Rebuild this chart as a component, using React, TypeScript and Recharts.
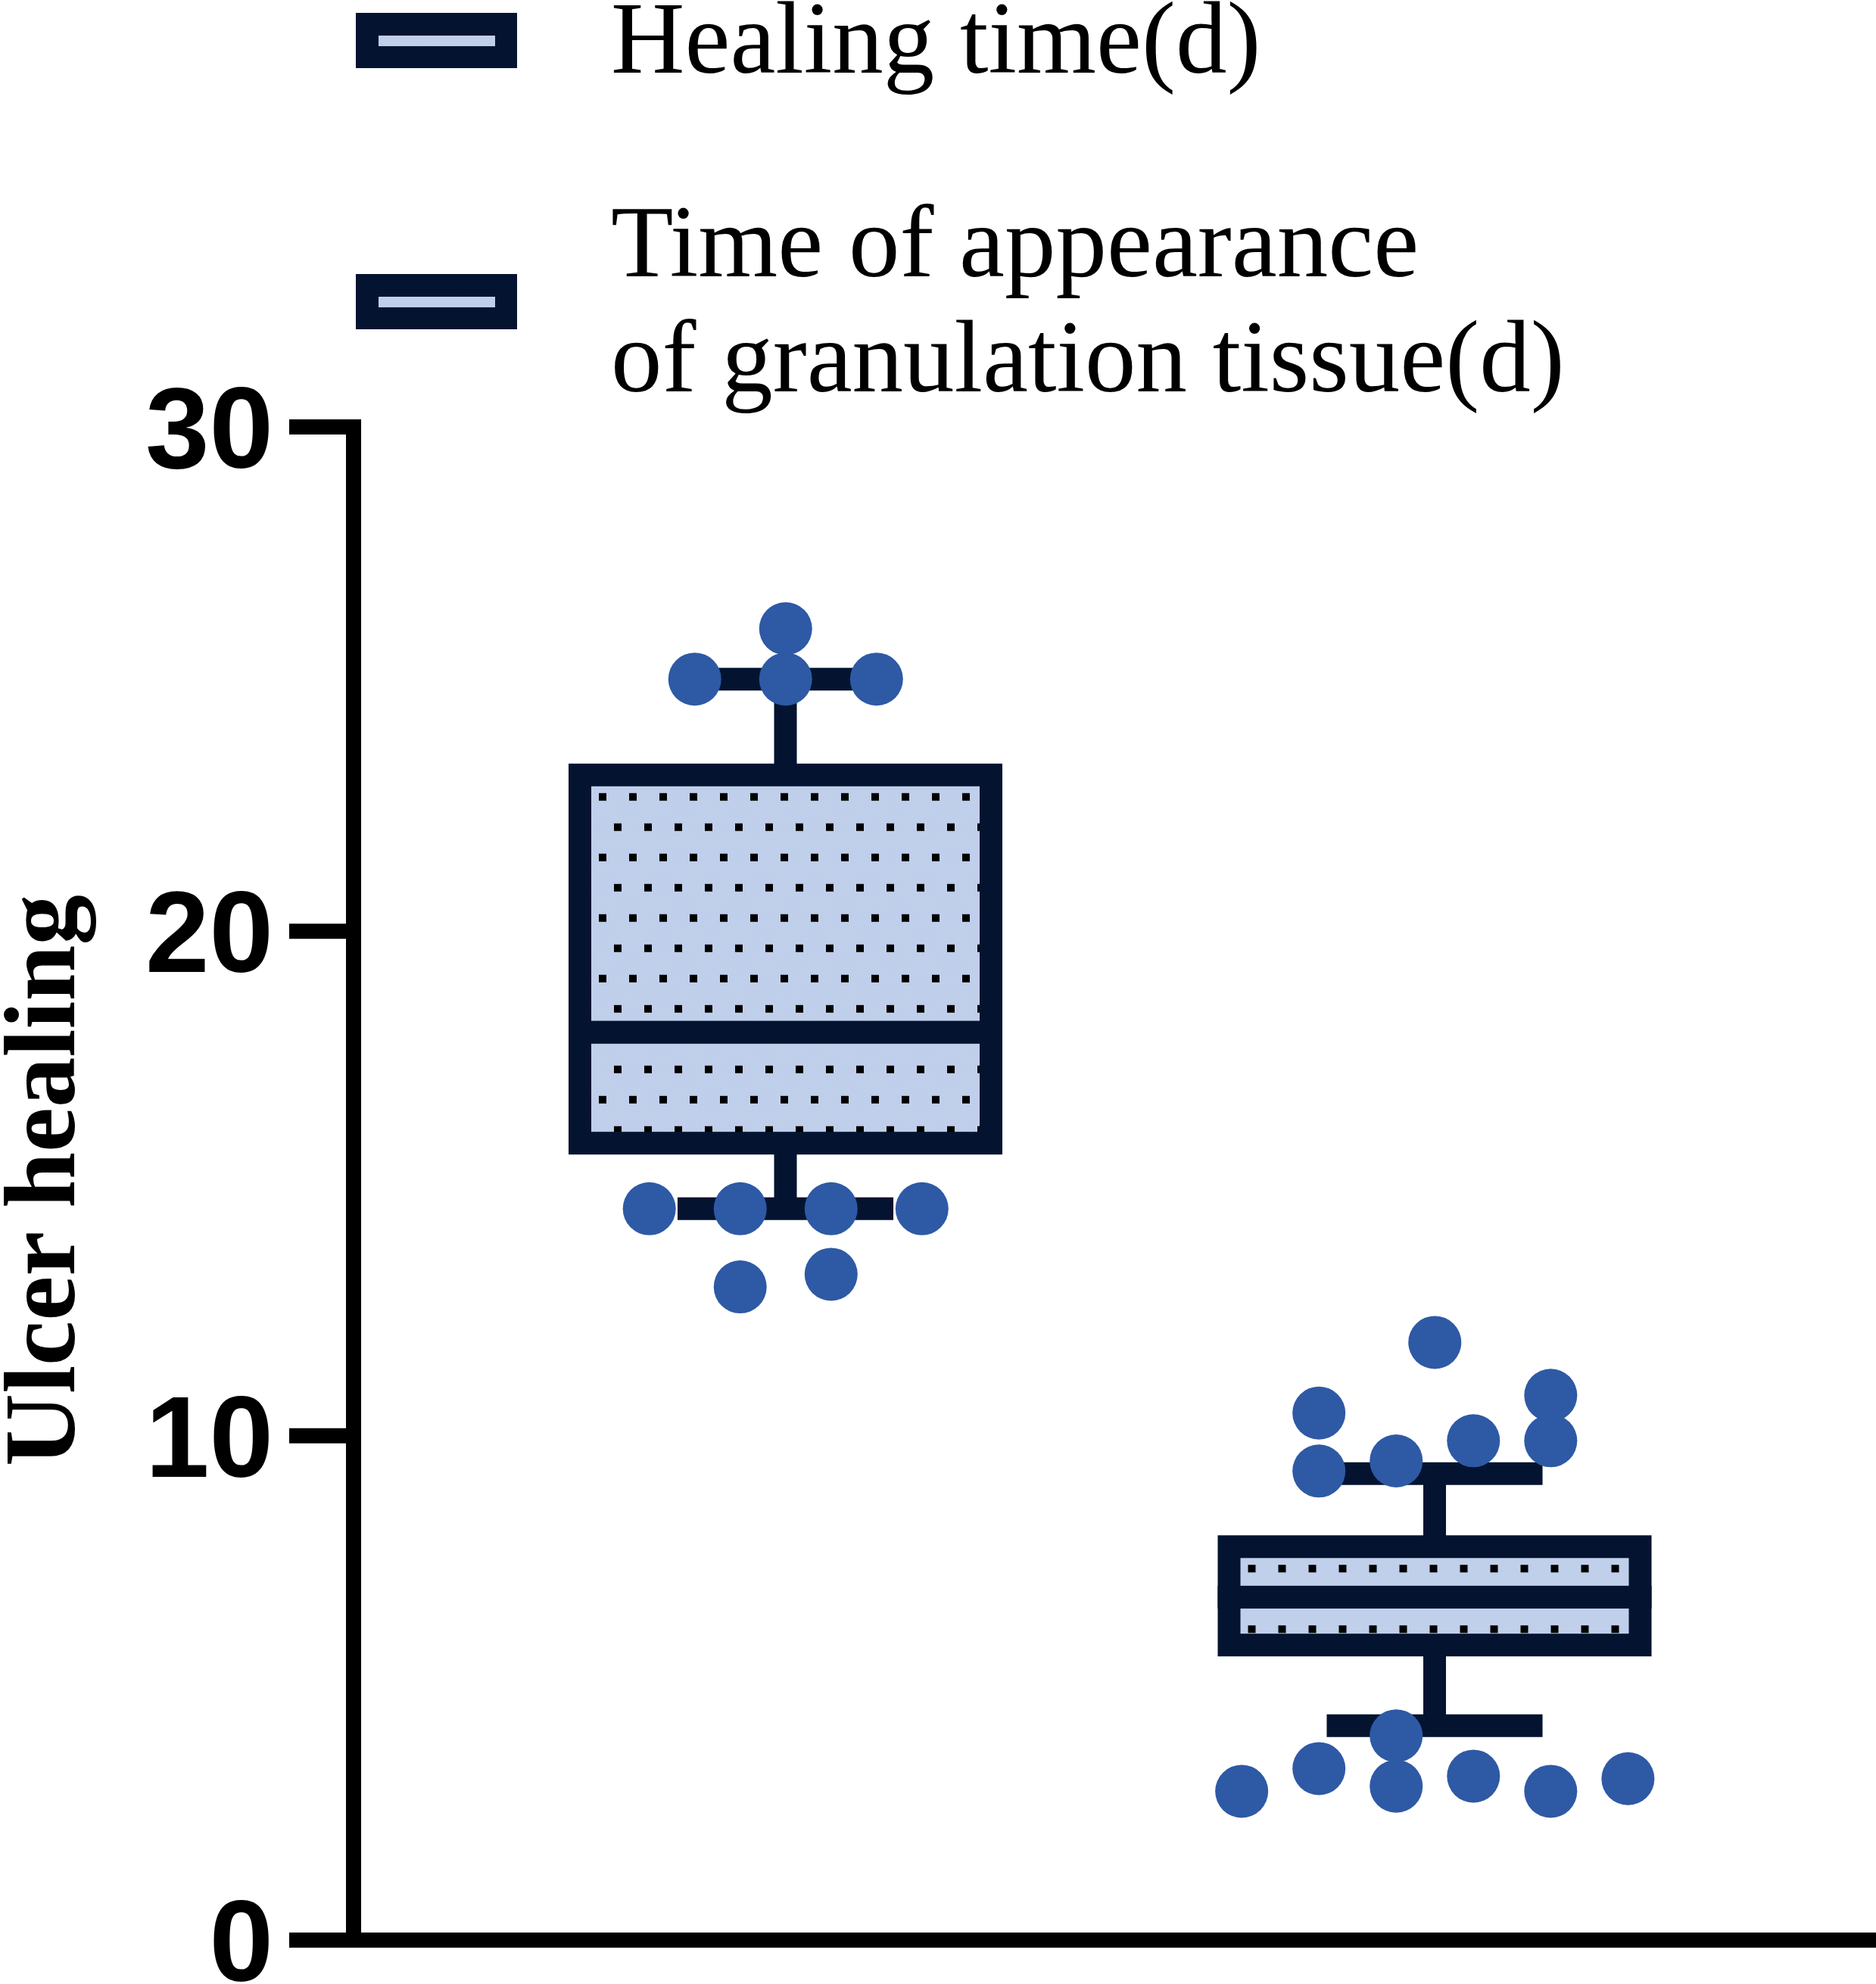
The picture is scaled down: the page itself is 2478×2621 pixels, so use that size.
import React from "react";
import {
  ComposedChart,
  Bar,
  Scatter,
  XAxis,
  YAxis,
  Legend,
} from "recharts";

// box summaries, one entry per group
const groups = ["Healing time(d)", "Time of appearance of granulation tissue(d)"];
const whiskerLow = [14.5, 4.25];
const q1 = [15.8, 5.85];
const median = [18.0, 6.8];
const q3 = [23.1, 7.8];
const whiskerHigh = [25.0, 9.25];

// individual observations + their jitter column
const healingTimes = [26, 25, 25, 25, 14.5, 14.5, 14.5, 14.5, 12.95, 13.2];
const healingSlots = [0, -2, 0, 2, -3, -1, 1, 3, -1, 1];
const granulationTimes = [11.85, 10.45, 10.8, 9.3, 9.5, 9.9, 9.9, 4.05, 3.4, 2.95, 3.05, 3.25, 2.95, 3.2];
const granulationSlots = [0, -3, 3, -3, -1, 1, 3, -1, -3, -5, -1, 1, 3, 5];

const yTicks = [0, 10, 20, 30];
const legendLines = [["Healing time(d)"], ["Time of appearance", "of granulation tissue(d)"]];

const NAVY = "#041430";
const DOT = "#2e59a5";
const STROKE = 30;
const jitterStep = [0.07, 0.0595];
const serif = "'Liberation Serif', 'Times New Roman', serif";

const boxRows = groups.map((name, i) => ({
  name,
  base: whiskerLow[i],
  wLow: q1[i] - whiskerLow[i],
  boxLow: median[i] - q1[i],
  boxHigh: q3[i] - median[i],
  wHigh: whiskerHigh[i] - q3[i],
}));

const toPoints = (values: number[], slots: number[], g: number) =>
  values.map((y, k) => ({ x: g + 0.5 + slots[k] * jitterStep[g], y }));

const points = [
  ...toPoints(healingTimes, healingSlots, 0),
  ...toPoints(granulationTimes, granulationSlots, 1),
];

const Empty = () => <g />;

const WhiskerLow = (p: any) => {
  const cx = p.x + p.width / 2;
  const half = (p.width * 0.525) / 2;
  const yb = p.y + p.height;
  return (
    <g>
      <line x1={cx} x2={cx} y1={p.y} y2={yb} stroke={NAVY} strokeWidth={STROKE} />
      <line x1={cx - half} x2={cx + half} y1={yb} y2={yb} stroke={NAVY} strokeWidth={STROKE} />
    </g>
  );
};

const WhiskerHigh = (p: any) => {
  const cx = p.x + p.width / 2;
  const half = (p.width * 0.525) / 2;
  return (
    <g>
      <line x1={cx} x2={cx} y1={p.y + p.height} y2={p.y} stroke={NAVY} strokeWidth={STROKE} />
      <line x1={cx - half} x2={cx + half} y1={p.y} y2={p.y} stroke={NAVY} strokeWidth={STROKE} />
    </g>
  );
};

const BoxLow = (p: any) => (
  <rect x={p.x} y={p.y} width={p.width} height={p.height} fill={`url(#dots-${p.index})`} stroke={NAVY} strokeWidth={STROKE} />
);

// upper half also defines the dotted fill, anchored at the inner top-left corner of the box
const BoxHigh = (p: any) => (
  <g>
    <defs>
      <pattern id={`chk-${p.index}`} width={2} height={2} patternUnits="userSpaceOnUse">
        <rect width={2} height={2} fill="#e8eef9" />
        <rect width={1} height={1} fill="#97afdb" />
        <rect x={1} y={1} width={1} height={1} fill="#97afdb" />
      </pattern>
      <pattern
        id={`dots-${p.index}`}
        x={p.x + STROKE / 2}
        y={p.y + STROKE / 2}
        width={40}
        height={80}
        patternUnits="userSpaceOnUse"
      >
        <rect width={40} height={80} fill={`url(#chk-${p.index})`} />
        <rect x={10} y={9} width={10} height={10} fill="#000" />
        <rect x={30} y={49} width={10} height={10} fill="#000" />
      </pattern>
    </defs>
    <rect x={p.x} y={p.y} width={p.width} height={p.height} fill={`url(#dots-${p.index})`} stroke={NAVY} strokeWidth={STROKE} />
  </g>
);

const Dot = (p: any) => <circle cx={p.cx} cy={p.cy} r={35} fill={DOT} />;

const YLabel = (p: any) => {
  const vb = p.viewBox || { x: 0, y: 564, width: 467, height: 1999 };
  const x = vb.x + 98;
  const y = vb.y + vb.height / 2 - 4;
  return (
    <text
      x={x}
      y={y}
      transform={`rotate(-90, ${x}, ${y})`}
      textAnchor="middle"
      fontFamily={serif}
      fontWeight={700}
      fontSize={133}
      fill="#000"
    >
      Ulcer healing
    </text>
  );
};

const markerTops = [17, 362];
const baselines = [[96], [365, 517]];

const renderLegend = () => (
  <svg width={2478} height={600} style={{ display: "block" }}>
    <defs>
      <pattern id="chk-legend" width={2} height={2} patternUnits="userSpaceOnUse">
        <rect width={2} height={2} fill="#e8eef9" />
        <rect width={1} height={1} fill="#97afdb" />
        <rect x={1} y={1} width={1} height={1} fill="#97afdb" />
      </pattern>
    </defs>
    {legendLines.map((lines, i) => (
      <g key={i}>
        <rect x={470} y={markerTops[i]} width={213} height={73} fill={NAVY} />
        <rect x={500} y={markerTops[i] + 30} width={154} height={14} fill="url(#chk-legend)" />
        {lines.map((t, j) => (
          <text key={j} x={807} y={baselines[i][j]} fontFamily={serif} fontSize={135} fill="#000">
            {t}
          </text>
        ))}
      </g>
    ))}
  </svg>
);

export default function App() {
  return (
    <div style={{ position: "absolute", left: 0, top: 0, width: 2478, height: 2621, background: "#fff" }}>
      <ComposedChart
        width={2478}
        height={2621}
        data={boxRows}
        margin={{ top: 564, right: 0, bottom: 0, left: 0 }}
      >
        <XAxis
          dataKey="name"
          tick={false}
          tickLine={false}
          height={58}
          padding={{ left: 142, right: 154 }}
          axisLine={{ stroke: "#000", strokeWidth: 20, strokeLinecap: "square" }}
        />
        <XAxis
          xAxisId="jit"
          type="number"
          dataKey="x"
          domain={[0, 2]}
          hide
          padding={{ left: 142, right: 154 }}
        />
        <YAxis
          domain={[0, 30]}
          ticks={yTicks}
          interval={0}
          width={467}
          tickSize={85}
          tickMargin={21}
          stroke="#000"
          axisLine={{ stroke: "#000", strokeWidth: 20, strokeLinecap: "square" }}
          tickLine={{ stroke: "#000", strokeWidth: 20 }}
          tick={{ fill: "#000", fontSize: 152, fontWeight: 700, fontFamily: "'Liberation Sans', Arial, sans-serif" }}
          label={{ content: YLabel }}
        />
        <Legend
          layout="horizontal"
          verticalAlign="middle"
          align="center"
          content={renderLegend}
          wrapperStyle={{ left: 0, top: 0, width: 2478, height: 600 }}
        />
        <Bar dataKey="base" stackId="box" barSize={543} shape={Empty} isAnimationActive={false} legendType="none" />
        <Bar dataKey="wLow" stackId="box" barSize={543} shape={WhiskerLow} isAnimationActive={false} />
        <Bar dataKey="boxLow" stackId="box" barSize={543} shape={BoxLow} isAnimationActive={false} />
        <Bar dataKey="boxHigh" stackId="box" barSize={543} shape={BoxHigh} isAnimationActive={false} />
        <Bar dataKey="wHigh" stackId="box" barSize={543} shape={WhiskerHigh} isAnimationActive={false} />
        <Scatter
          xAxisId="jit"
          data={points}
          dataKey="y"
          shape={Dot}
          isAnimationActive={false}
        />
      </ComposedChart>
    </div>
  );
}
